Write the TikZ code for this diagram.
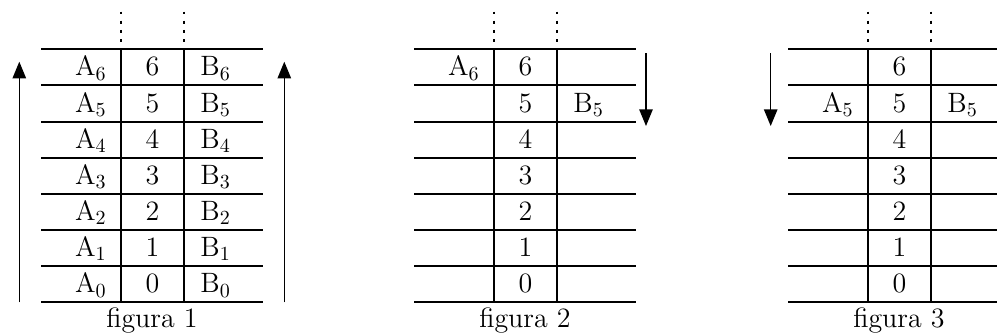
\documentclass[tikz,border=0pt]{standalone}
\usepackage{tikz}
\usetikzlibrary{arrows.meta}
% grid of one figure: #1 = left edge, #2 = number of the figure
\newcommand{\rejilla}[2]{%
  \foreach \k in {0,...,7}
    \draw[linea] (#1,49.3+36.14*\k) -- (#1+222,49.3+36.14*\k);
  \draw[linea] (#1+80,49.3) -- (#1+80,302.3);
  \draw[linea] (#1+143,49.3) -- (#1+143,302.3);
  \draw[puntos] (#1+80,11.5) -- (#1+80,49.3);
  \draw[puntos] (#1+143,11.5) -- (#1+143,49.3);
  \foreach \n in {0,...,6}
    \node[celdaN] (n#2-\n) at (#1+111.5,49.3+36.14*6.5-36.14*\n+8.6) {\n};
  \node[celdaN] (cap#2) at (#1+111,327) {figura #2};
}
\newcommand{\fila}[1]{49.3+36.14*6.5-36.14*#1+8.6}

\begin{document}
\begin{tikzpicture}[x=0.5pt,y=-0.5pt,font=\fontsize{14}{16}\selectfont,
    every node/.style={inner sep=0pt},
    linea/.style={line width=1pt},
    puntos/.style={line width=1pt,dash pattern=on 1.4pt off 3.2pt},
    flecha/.style={line width=0.65pt,-{Triangle[length=8.3pt,width=6.7pt]}},
    celdaA/.style={anchor=base east},
    celdaB/.style={anchor=base west},
    celdaN/.style={anchor=base}]
  \useasboundingbox (0,0) rectangle (997,334);
  \clip (0,0) rectangle (997,334);

  % figura 1
  \rejilla{41}{1}
  \foreach \n in {0,...,6}{
    \node[celdaA] (a1-\n) at (41+66,\fila{\n}) {A$_\n$};
    \node[celdaB] (b1-\n) at (41+159,\fila{\n}) {B$_\n$};
  }
  \coordinate (i1-ini) at (19.3,302.3);
  \coordinate (i1-fin) at (19.3,61.7);
  \coordinate (d1-ini) at (284.3,302.3);
  \coordinate (d1-fin) at (284.3,61.7);
  \draw[flecha] (i1-ini) -- (i1-fin);
  \draw[flecha] (d1-ini) -- (d1-fin);

  % figura 2
  \rejilla{414}{2}
  \node[celdaA] (a2-6) at (414+66,\fila{6}) {A$_6$};
  \node[celdaB] (b2-5) at (414+159,\fila{5}) {B$_5$};
  \coordinate (d2-ini) at (646,53);
  \coordinate (d2-fin) at (646,126);
  \draw[flecha] (d2-ini) -- (d2-fin);

  % figura 3
  \rejilla{788}{3}
  \node[celdaA] (a3-5) at (788+66,\fila{5}) {A$_5$};
  \node[celdaB] (b3-5) at (788+159,\fila{5}) {B$_5$};
  \coordinate (i3-ini) at (770.7,53);
  \coordinate (i3-fin) at (770.7,126);
  \draw[flecha] (i3-ini) -- (i3-fin);
\end{tikzpicture}
\end{document}
